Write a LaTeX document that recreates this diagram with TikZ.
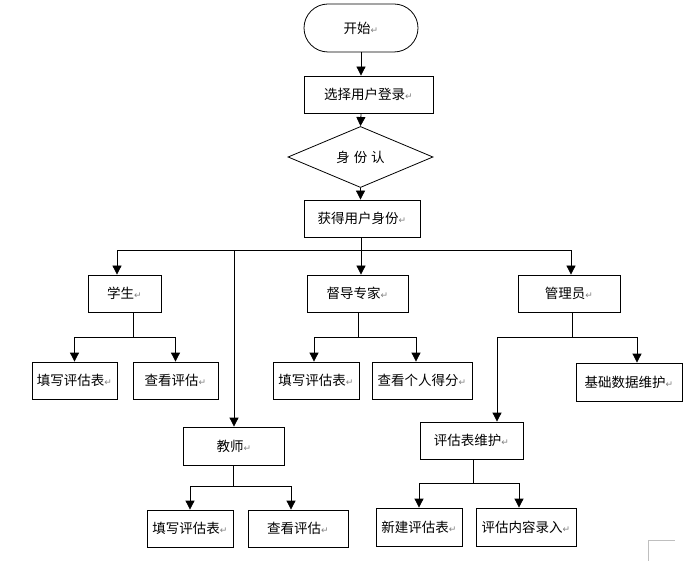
\documentclass[tikz,border=0pt]{standalone}
\usepackage{fontspec}
\usepackage{xcolor}
\usepackage{tikz}
\usetikzlibrary{arrows.meta, positioning, shapes.geometric}
\newfontfamily\cjk{Noto Sans CJK SC}
\newfontfamily\marksym{DejaVu Sans}
\newcommand{\pmark}{{\marksym\fontsize{9}{9}\selectfont\textcolor{gray}{↵}}}
\begin{document}
\begin{tikzpicture}[
    x=1pt, y=-1pt,
    box/.style={draw, line width=0.8pt, minimum height=37pt, inner sep=0pt,
                text centered, font=\cjk\fontsize{13.5}{16}\selectfont},
    arr/.style={-{Triangle[length=9pt, width=9pt]}, line width=0.8pt},
    line/.style={line width=0.8pt}
]
\useasboundingbox (0,0) rectangle (693,561);

\node[box, rounded corners=24pt, minimum width=114pt, minimum height=48pt] (start) at (361,28) {开始\pmark};
\node[box, minimum width=129pt] (login) at (368.5,94.5) {选择用户登录\pmark};
\node[box, diamond, minimum width=145pt, minimum height=60pt] (check) at (360.5,157) {身\hspace{4pt}份\hspace{4pt}认};
\node[box, minimum width=116pt] (ident) at (362,218.5) {获得用户身份\pmark};

\node[box, minimum width=73pt] (student) at (124.5,293.5) {学生\pmark};
\node[box, minimum width=101pt] (expert) at (357.5,293.5) {督导专家\pmark};
\node[box, minimum width=102pt] (admin) at (569,293.5) {管理员\pmark};

\node[box, minimum width=85pt] (sfill) at (74.5,380.5) {填写评估表\pmark};
\node[box, minimum width=85pt] (sview) at (175.5,380.5) {查看评估\pmark};
\node[box, minimum width=86pt] (efill) at (316,380.5) {填写评估表\pmark};
\node[box, minimum width=100pt] (eview) at (422,380.5) {查看个人得分\pmark};
\node[box, minimum width=106pt, minimum height=38pt] (adata) at (629,382) {基础数据维护\pmark};

\node[box, minimum width=101pt, minimum height=38pt] (teacher) at (234,446) {教师\pmark};
\node[box, minimum width=86pt] (tfill) at (190,528.5) {填写评估表\pmark};
\node[box, minimum width=100pt] (tview) at (298,528.5) {查看评估\pmark};

\node[box, minimum width=103pt] (aform) at (471.5,440.5) {评估表维护\pmark};
\node[box, minimum width=86pt, minimum height=38pt] (anew) at (419,527) {新建评估表\pmark};
\node[box, minimum width=100pt, minimum height=38pt] (aitem) at (526,527) {评估内容录入\pmark};

% junctions
\coordinate (hub) at (361,250.7);
\coordinate (sj) at (133,337);
\coordinate (ej) at (358,337);
\coordinate (aj) at (572,337);
\coordinate (tj) at (233,486);
\coordinate (fj) at (473,483);

% main line
\draw[arr] (start.south -| hub) -- (login.north -| hub);
\draw[arr] (login.south -| hub) -- (check.north);
\draw[arr] (check.south) -- (ident.north -| check.south);
\draw[line] (ident.south -| hub) -- (hub);

% roles
\draw[arr] (hub) -| ([xshift=-7.5pt]student.north);
\draw[arr] (hub) -- (expert.north -| hub);
\draw[arr] (hub) -| ([xshift=2pt]admin.north);
\draw[arr] (hub -| teacher.north) -- (teacher.north);

% student
\draw[line] (student.south -| sj) -- (sj);
\draw[arr] (sj) -| (sfill.north);
\draw[arr] (sj) -| (sview.north);

% expert
\draw[line] (expert.south -| ej) -- (ej);
\draw[arr] (ej) -| ([xshift=-2pt]efill.north);
\draw[arr] (ej) -| ([xshift=-6pt]eview.north);

% admin
\draw[line] (admin.south -| aj) -- (aj);
\draw[arr] (aj) -| ([xshift=25.5pt]aform.north);
\draw[arr] (aj) -| ([xshift=8pt]adata.north);

% teacher
\draw[line] (teacher.south -| tj) -- (tj);
\draw[arr] (tj) -| (tfill.north);
\draw[arr] (tj) -| ([xshift=-7pt]tview.north);

% form upkeep
\draw[line] (aform.south -| fj) -- (fj);
\draw[arr] (fj) -| (anew.north);
\draw[arr] (fj) -| ([xshift=-7pt]aitem.north);

% page corner
\draw[gray!50, line width=0.6pt] (648,561) -- (648,540) -- (675,540);
\end{tikzpicture}
\end{document}
